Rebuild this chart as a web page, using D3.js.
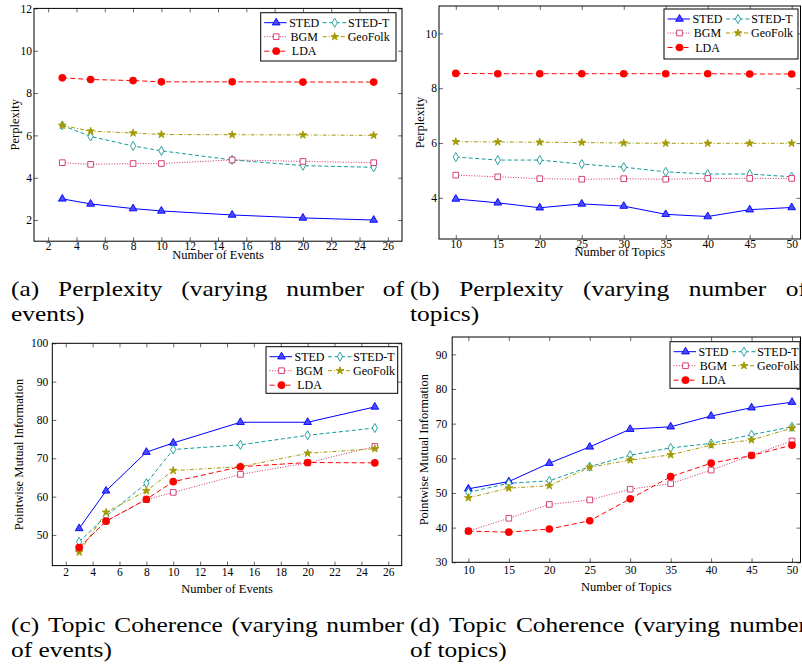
<!DOCTYPE html>
<html>
<head>
<meta charset="utf-8">
<script src="https://cdn.jsdelivr.net/npm/d3@7"></script>
<style>
  body { margin: 0; background: #fff; }
  text { font-family: "Liberation Serif", serif; fill: #000; }
</style>
</head>
<body>
<div id="root"></div>
<script>
// series names, same order in every value table
var seriesNames = ["STED", "STED-T", "BGM", "GeoFolk", "LDA"];

var events = [3, 5, 8, 10, 15, 20, 25];
var topics = [10, 15, 20, 25, 30, 35, 40, 45, 50];

// (a) perplexity vs number of events
var perplexityEvents = [
    [3.0, 2.76, 2.54, 2.43, 2.24, 2.10, 2.0],
    [6.47, 5.95, 5.5, 5.27, 4.84, 4.57, 4.49],
    [4.71, 4.63, 4.67, 4.67, 4.84, 4.77, 4.71],
    [6.47, 6.2, 6.11, 6.04, 6.03, 6.02, 6.0],
    [8.72, 8.64, 8.59, 8.53, 8.53, 8.52, 8.52]
];

// (b) perplexity vs number of topics
var perplexityTopics = [
    [3.96, 3.82, 3.64, 3.78, 3.70, 3.40, 3.32, 3.57, 3.65],
    [5.49, 5.38, 5.38, 5.23, 5.12, 4.95, 4.87, 4.87, 4.77],
    [4.83, 4.77, 4.70, 4.68, 4.70, 4.68, 4.71, 4.71, 4.71],
    [6.05, 6.04, 6.03, 6.02, 6.0, 5.99, 5.99, 5.99, 5.99],
    [8.54, 8.53, 8.53, 8.53, 8.53, 8.53, 8.53, 8.52, 8.52]
];

// (c) PMI vs number of events
var pmiEvents = [
    [51.7, 61.5, 71.6, 74.0, 79.4, 79.4, 83.4],
    [48.2, 54.9, 63.5, 72.3, 73.5, 76.0, 77.9],
    [46.7, 53.6, 59.2, 61.1, 65.8, 68.8, 73.1],
    [45.5, 55.9, 61.5, 66.8, 67.8, 71.3, 72.5],
    [46.7, 53.6, 59.3, 63.9, 67.8, 68.9, 68.8]
];

// (d) PMI vs number of topics
var pmiTopics = [
    [51.2, 53.3, 58.6, 63.3, 68.4, 69.1, 72.2, 74.6, 76.2],
    [50.2, 52.8, 53.5, 57.6, 60.9, 63.0, 64.3, 66.8, 69.1],
    [39.0, 42.7, 46.7, 48.0, 51.1, 52.7, 56.6, 60.9, 65.0],
    [48.6, 51.4, 52.1, 57.4, 59.5, 61.0, 63.8, 65.3, 68.7],
    [39.0, 38.7, 39.6, 42.0, 48.3, 54.7, 58.6, 60.8, 63.8]
];

var eventTicks = [2, 4, 6, 8, 10, 12, 14, 16, 18, 20, 22, 24, 26];
var perplexityTicksA = [2, 4, 6, 8, 10, 12];
var perplexityTicksB = [4, 6, 8, 10];
var pmiTicksC = [50, 60, 70, 80, 90, 100];
var pmiTicksD = [30, 40, 50, 60, 70, 80, 90];

var captions = [
    ["(a) Perplexity (varying number of", "events)"],
    ["(b) Perplexity (varying number of", "topics)"],
    ["(c) Topic Coherence (varying number", "of events)"],
    ["(d) Topic Coherence (varying number", "of topics)"]
];

var colors = ["#0000ff", "#139a9a", "#d0306a", "#a39a00", "#ff0000"];
var dashes = [null, "4,2.5", "1,1.6", "4,2,1,2", "5,3"];

var W = 802, H = 668;
var svg = d3.select("#root").append("svg")
    .attr("width", W).attr("height", H)
    .style("display", "block");
svg.append("rect").attr("width", W).attr("height", H).attr("fill", "#fff");

var panels = [
    {x0: 34, x1: 402, y0: 8.4, y1: 241.2, xDom: [1, 27], yDom: [1, 12],
     xs: events, vals: perplexityEvents, xTicks: eventTicks, yTicks: perplexityTicksA,
     xTitle: "Number of Events", yTitle: "Perplexity",
     xPad: 1, yPad: 2, xTitleY: 255, yTitleX: 15, legend: [260.7, 12.7, 396, 61]},
    {x0: 439, x1: 800.5, y0: 6, y1: 239, xDom: [8, 51.05], yDom: [2.5, 11],
     xs: topics, vals: perplexityTopics, xTicks: topics, yTicks: perplexityTicksB,
     xTitle: "Number of Topics", yTitle: "Perplexity",
     xPad: 0.5, yPad: 2, xTitleY: 251.7, yTitleX: 420, legend: [664, 9, 798, 59]},
    {x0: 52.3, x1: 401.7, y0: 343.3, y1: 565.6, xDom: [1, 27], yDom: [42, 100],
     xs: events, vals: pmiEvents, xTicks: eventTicks, yTicks: pmiTicksC,
     xTitle: "Number of Events", yTitle: "Pointwise Mutual Information",
     xPad: 2.3, yPad: 4, xTitleY: 588.3, yTitleX: 19, legend: [266, 346.7, 397.7, 393.3]},
    {x0: 452.2, x1: 800.5, y0: 337, y1: 562.3, xDom: [8, 51.05], yDom: [30, 95],
     xs: topics, vals: pmiTopics, xTicks: topics, yTicks: pmiTicksD,
     xTitle: "Number of Topics", yTitle: "Pointwise Mutual Information",
     xPad: 4, yPad: 5, xTitleY: 586.7, yTitleX: 423.3, legend: [670, 341.7, 800, 388.3]}
];

function markerPath(i) {
    var types = [d3.symbolTriangle, d3.symbolDiamond, d3.symbolSquare, d3.symbolStar, d3.symbolCircle];
    var sizes = [26, 24, 32, 18, 46];
    return d3.symbol().type(types[i]).size(sizes[i])();
}

function markerStyle(sel, i) {
    var fills = ["#4a4aff", "#fff", "#fff", colors[3], colors[4]];
    sel.attr("fill", fills[i])
        .attr("stroke", colors[i])
        .attr("stroke-width", i === 4 ? 0 : 0.9);
}

function drawPanel(p) {
    var g = svg.append("g");
    var x = d3.scaleLinear().domain(p.xDom).range([p.x0, p.x1]);
    var y = d3.scaleLinear().domain(p.yDom).range([p.y1, p.y0]);

    // inward ticks on all four sides
    g.append("g").attr("transform", "translate(0," + p.y1 + ")")
        .call(d3.axisBottom(x).tickValues(p.xTicks).tickSize(-4).tickPadding(p.xPad));
    g.append("g").attr("transform", "translate(0," + p.y0 + ")")
        .call(d3.axisTop(x).tickValues(p.xTicks).tickSize(-4).tickFormat(""));
    g.append("g").attr("transform", "translate(" + p.x0 + ",0)")
        .call(d3.axisLeft(y).tickValues(p.yTicks).tickSize(-4).tickPadding(p.yPad));
    g.append("g").attr("transform", "translate(" + p.x1 + ",0)")
        .call(d3.axisRight(y).tickValues(p.yTicks).tickSize(-4).tickFormat(""));

    g.selectAll(".domain").remove();
    g.selectAll(".tick line").attr("stroke", "#000").attr("stroke-width", 0.6);
    g.selectAll(".tick text")
        .style("font-family", "Liberation Serif, serif")
        .style("font-size", "11.5px")
        .attr("fill", "#000");

    g.append("rect")
        .attr("x", p.x0).attr("y", p.y0)
        .attr("width", p.x1 - p.x0).attr("height", p.y1 - p.y0)
        .attr("fill", "none").attr("stroke", "#000").attr("stroke-width", 1);

    g.append("text")
        .attr("x", (p.x0 + p.x1) / 2).attr("y", p.xTitleY).attr("dy", "0.35em")
        .attr("text-anchor", "middle").style("font-size", "12.5px")
        .text(p.xTitle);
    g.append("text")
        .attr("transform", "translate(" + p.yTitleX + "," + ((p.y0 + p.y1) / 2) + ") rotate(-90)")
        .attr("dy", "0.35em")
        .attr("text-anchor", "middle").style("font-size", "12.5px")
        .text(p.yTitle);

    var line = d3.line().x(function(d) { return x(d[0]); }).y(function(d) { return y(d[1]); });

    p.vals.forEach(function(vals, i) {
        var pts = p.xs.map(function(v, k) { return [v, vals[k]]; });
        g.append("path")
            .attr("d", line(pts))
            .attr("fill", "none")
            .attr("stroke", colors[i])
            .attr("stroke-width", 1)
            .attr("stroke-dasharray", dashes[i]);
        g.selectAll(".m" + i).data(pts).enter().append("path")
            .attr("class", "m" + i)
            .attr("transform", function(d) { return "translate(" + x(d[0]) + "," + y(d[1]) + ")"; })
            .attr("d", markerPath(i))
            .call(markerStyle, i);
    });

    // legend
    var L = p.legend;
    var lg = g.append("g");
    lg.append("rect")
        .attr("x", L[0]).attr("y", L[1])
        .attr("width", L[2] - L[0]).attr("height", L[3] - L[1])
        .attr("fill", "#fff").attr("stroke", "#000").attr("stroke-width", 1);
    var cols = [{s0: 3.5, s1: 26, m: 15.5, t: 43.5}, {s0: 62, s1: 85.5, m: 74, t: 108}];
    var rows = [10, 24, 38.5];
    seriesNames.forEach(function(name, i) {
        var c = cols[i % 2], ry = L[1] + rows[Math.floor(i / 2)];
        lg.append("line")
            .attr("x1", L[0] + c.s0).attr("x2", L[0] + c.s1)
            .attr("y1", ry).attr("y2", ry)
            .attr("stroke", colors[i]).attr("stroke-width", 1)
            .attr("stroke-dasharray", dashes[i]);
        lg.append("path")
            .attr("transform", "translate(" + (L[0] + c.m) + "," + ry + ")")
            .attr("d", markerPath(i))
            .call(markerStyle, i);
        lg.append("text")
            .attr("x", L[0] + c.t).attr("y", ry).attr("dy", "0.35em")
            .attr("text-anchor", "middle").style("font-size", "12px")
            .text(name);
    });
}

panels.forEach(drawPanel);

// justified two-line sub captions, stretched horizontally to get closer to the wide LaTeX face
var capStretch = 1.24;
function drawCaption(lines, left, right, base1, base2) {
    var g = svg.append("g")
        .attr("transform", "translate(" + left + ",0) scale(" + capStretch + ",1)")
        .style("font-size", "20.5px");
    var words = lines[0].split(" ");
    var nodes = words.map(function(w) {
        return g.append("text").attr("y", base1).text(w);
    });
    var widths = nodes.map(function(n) { return n.node().getComputedTextLength(); });
    var span = (right - left) / capStretch;
    var gap = (span - d3.sum(widths)) / (words.length - 1);
    var cx = 0;
    nodes.forEach(function(n, k) {
        n.attr("x", cx);
        cx += widths[k] + gap;
    });
    g.append("text").attr("x", 0).attr("y", base2).text(lines[1]);
}

drawCaption(captions[0], 11, 404, 296, 321);
drawCaption(captions[1], 410, 807, 296, 321);
drawCaption(captions[2], 11, 404, 632, 657);
drawCaption(captions[3], 410, 807, 632, 657);
</script>
</body>
</html>
